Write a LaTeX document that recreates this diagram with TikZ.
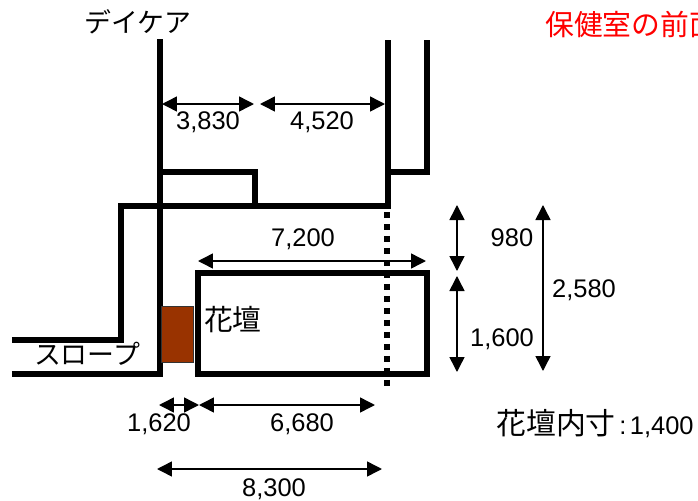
\documentclass[tikz,border=0pt]{standalone}
\usepackage{fontspec}
\setmainfont{Liberation Sans}
\newfontfamily\jpfont{Noto Sans CJK JP}
\usetikzlibrary{arrows.meta}
\definecolor{kadan}{HTML}{993300}
\tikzset{
	wall/.style={line width=0.12cm, black},
	dimline/.style={line width=0.03cm, {Triangle[length=0.3cm,width=0.3cm]}-{Triangle[length=0.3cm,width=0.3cm]}},
	dimtext/.style={inner sep=0pt, font=\fontsize{14.5}{16}\selectfont},
	jptext/.style={inner sep=0pt, font=\fontsize{15.3}{16}\selectfont\jpfont},
	kanjitext/.style={inner sep=0pt, font=\fontsize{16.4}{18}\selectfont\jpfont}
}
\begin{document}
\begin{tikzpicture}[x=0.02cm,y=-0.02cm]
	\useasboundingbox (0,0) rectangle (698,501);
	% walls
	\draw[wall] (160,39)--(160,377);
	\draw[wall] (12,374)--(163,374);
	\draw[wall] (12,340)--(121,340)--(121,206)--(388,206)--(388,40);
	\draw[wall] (388,172)--(427,172)--(427,40);
	\draw[wall] (160,172)--(255,172)--(255,206);
	\draw[wall] (198,273) rectangle (427,374);
	\draw[line width=0.12cm, dash pattern=on 0.12cm off 0.12cm] (387,212)--(387,387);
	% planter
	\draw[fill=kadan, draw=black!80, line width=0.02cm] (161,306)rectangle(193,362);
	% dimensions
	\draw[dimline] (162,104)--(254,104);
	\draw[dimline] (260,104)--(385,104);
	\draw[dimline] (198,261)--(426,261);
	\draw[dimline] (457,205)--(457,271);
	\draw[dimline] (543,205)--(543,371);
	\draw[dimline] (457,276)--(457,372);
	\draw[dimline] (159,405)--(199,405);
	\draw[dimline] (199,405)--(375,405);
	\draw[dimline] (157,469)--(382,469);
	% labels
	\node[jptext] (daycare) at (138,22) {デイケア};
	\node[kanjitext, red, anchor=west] (hokenshitsu) at (545,24) {保健室の前面};
	\node[kanjitext] (kadan) at (233,320) {花壇};
	\node[jptext] (slope) at (87,354) {スロープ};
	\node[dimtext] (d3830) at (208,122) {3,830};
	\node[dimtext] (d4520) at (322,122) {4,520};
	\node[dimtext] (d7200) at (303,239) {7,200};
	\node[dimtext] (d980) at (512,238) {980};
	\node[dimtext] (d2580) at (584,290) {2,580};
	\node[dimtext] (d1600) at (502,339) {1,600};
	\node[dimtext] (d1620) at (159,424) {1,620};
	\node[dimtext] (d6680) at (302,424) {6,680};
	\node[dimtext] (d8300) at (274,489) {8,300};
	\node[dimtext, anchor=west] (naisun) at (496,424) {{\fontsize{17}{18}\selectfont\jpfont 花壇内寸}\hspace{2pt}:\hspace{2pt}1,400};
\end{tikzpicture}
\end{document}
